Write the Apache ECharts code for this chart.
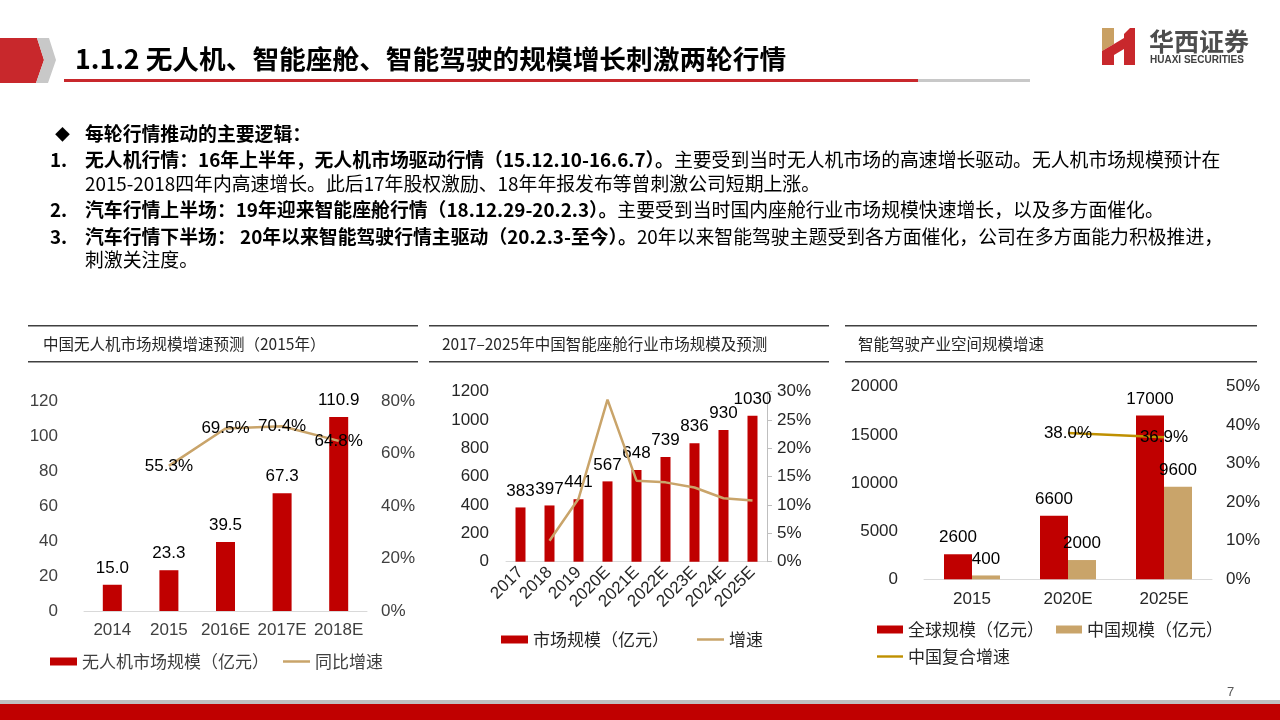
<!DOCTYPE html>
<html><head><meta charset="utf-8">
<script src="https://cdn.jsdelivr.net/npm/echarts@6/dist/echarts.min.js"></script>
<style>
body{margin:0;width:1280px;height:720px;overflow:hidden;background:#fff;font-family:"Noto Sans CJK SC",sans-serif;}
#c{position:absolute;left:0;top:0;width:1280px;height:720px;}
.t{position:absolute;white-space:nowrap;font-size:18.85px;color:#000;line-height:19px;z-index:2;}
.t b{font-weight:bold}
</style></head><body>
<div id="c"></div>
<div class="t" style="left:75px;top:45px;font-size:26.7px;line-height:26px;font-weight:bold;">1.1.2 无人机、智能座舱、智能驾驶的规模增长刺激两轮行情</div>
<div class="t" style="left:55px;top:124px;font-size:15px;">◆</div>
<div class="t" style="left:85px;top:123px;"><b>每轮行情推动的主要逻辑：</b></div>
<div class="t" style="left:50px;top:149px;"><b>1.</b></div>
<div class="t" style="left:85px;top:149px;"><b>无人机行情：16年上半年，无人机市场驱动行情（15.12.10-16.6.7）。</b>主要受到当时无人机市场的高速增长驱动。无人机市场规模预计在</div>
<div class="t" style="left:85px;top:173px;">2015-2018四年内高速增长。此后17年股权激励、18年年报发布等曾刺激公司短期上涨。</div>
<div class="t" style="left:50px;top:199px;"><b>2.</b></div>
<div class="t" style="left:85px;top:199px;"><b>汽车行情上半场：19年迎来智能座舱行情（18.12.29-20.2.3）。</b>主要受到当时国内座舱行业市场规模快速增长，以及多方面催化。</div>
<div class="t" style="left:50px;top:226px;"><b>3.</b></div>
<div class="t" style="left:85px;top:226px;"><b>汽车行情下半场： 20年以来智能驾驶行情主驱动（20.2.3-至今）。</b>20年以来智能驾驶主题受到各方面催化，公司在多方面能力积极推进，</div>
<div class="t" style="left:85px;top:249px;">刺激关注度。</div>
<script>
// Chart 1: 中国无人机市场规模增速预测（2015年）
const c1Cats = ['2014', '2015', '2016E', '2017E', '2018E'];
const c1Size = [15.0, 23.3, 39.5, 67.3, 110.9];
const c1Growth = [null, 55.3, 69.5, 70.4, 64.8];
// Chart 2: 2017-2025年中国智能座舱行业市场规模及预测
const c2Cats = ['2017', '2018', '2019', '2020E', '2021E', '2022E', '2023E', '2024E', '2025E'];
const c2Size = [383, 397, 441, 567, 648, 739, 836, 930, 1030];
const c2Growth = [null, 3.7, 11.1, 28.6, 14.3, 14.0, 13.1, 11.2, 10.8];
// Chart 3: 智能驾驶产业空间规模增速
const c3Cats = ['2015', '2020E', '2025E'];
const c3Global = [2600, 6600, 17000];
const c3China = [400, 2000, 9600];
const c3Cagr = [null, 38.0, 36.9];

const RED = '#C00000', TAN = '#C9A46A', GOLD = '#BF9000';
const NUM = '"Liberation Sans", "Noto Sans CJK SC", sans-serif';
const CJK = '"Noto Sans CJK SC", sans-serif';
const LINE_ICON = 'path://M0,0L27,0L27,2.5L0,2.5Z';

const chart = echarts.init(document.getElementById('c'));

const plain = v => String(v);
const pct = v => v + '%';

function xAx(gi, cats, labelExtra) {
  return {
    type: 'category', gridIndex: gi, data: cats,
    axisLine: {lineStyle: {color: '#D9D9D9', width: 1}},
    axisTick: {show: false},
    axisLabel: Object.assign({fontSize: 17, color: '#404040', fontFamily: NUM, margin: 11, interval: 0}, labelExtra || {})
  };
}
function yAx(gi, pos, max, interval, fmt, margin, color, extra) {
  return Object.assign({
    type: 'value', gridIndex: gi, position: pos, min: 0, max: max, interval: interval,
    axisLine: {show: false}, axisTick: {show: false}, splitLine: {show: false},
    axisLabel: {fontSize: 17, color: color, fontFamily: NUM, margin: margin, formatter: fmt}
  }, extra || {});
}
const barLabel = {show: true, position: 'top', distance: 8, fontSize: 17, color: '#000', fontFamily: NUM};
const lineLabel = {show: true, position: 'inside', fontSize: 17, color: '#000', fontFamily: NUM,
  formatter: p => p.value.toFixed(1) + '%'};

function sepLines(x1, x2) {
  return [
    {type: 'rect', shape: {x: x1, y: 325, width: x2 - x1, height: 1.5}, style: {fill: '#404040'}},
    {type: 'rect', shape: {x: x1, y: 361, width: x2 - x1, height: 1.5}, style: {fill: '#404040'}}
  ];
}
function ctitle(x, txt) {
  return {type: 'text', x: x, y: 344, style: {text: txt, fontSize: 15.5, fill: '#262626', fontFamily: CJK, verticalAlign: 'middle'}};
}

const option = {
  animation: false,
  textStyle: {fontFamily: CJK},
  grid: [
    {left: 84, top: 401, width: 283, height: 210},
    {left: 506, top: 391.7, width: 261, height: 170},
    {left: 924, top: 386.7, width: 288, height: 192.6}
  ],
  xAxis: [
    xAx(0, c1Cats),
    xAx(1, c2Cats, {color: '#262626', margin: 8, rotate: 45}),
    xAx(2, c3Cats, {color: '#262626', margin: 12})
  ],
  yAxis: [
    yAx(0, 'left', 120, 20, plain, 26, '#404040'),
    yAx(0, 'right', 80, 20, pct, 14, '#404040'),
    yAx(1, 'left', 1200, 200, plain, 17, '#262626'),
    yAx(1, 'right', 30, 5, pct, 10, '#262626', {
      axisLine: {show: true, lineStyle: {color: '#BFBFBF'}},
      axisTick: {show: true, inside: false, length: 5, lineStyle: {color: '#BFBFBF'}}
    }),
    yAx(2, 'left', 20000, 5000, plain, 26, '#262626'),
    yAx(2, 'right', 50, 10, pct, 14, '#262626')
  ],
  legend: [
    {left: 50, top: 653, padding: 0, itemWidth: 27, itemHeight: 8, itemGap: 14,
      textStyle: {fontSize: 17, color: '#404040', fontFamily: CJK},
      data: [{name: '无人机市场规模（亿元）', icon: 'rect'}, {name: '同比增速', icon: LINE_ICON}]},
    {left: 501, top: 631, padding: 0, itemWidth: 27, itemHeight: 8, itemGap: 28,
      textStyle: {fontSize: 17, color: '#262626', fontFamily: CJK},
      data: [{name: '市场规模（亿元）', icon: 'rect'}, {name: '增速', icon: LINE_ICON}]},
    {left: 877, top: 621, padding: 0, itemWidth: 26, itemHeight: 8, itemGap: 12,
      textStyle: {fontSize: 17, color: '#262626', fontFamily: CJK},
      data: [{name: '全球规模（亿元）', icon: 'rect'}, {name: '中国规模（亿元）', icon: 'rect'}]},
    {left: 877, top: 648, padding: 0, itemWidth: 26, itemHeight: 8,
      textStyle: {fontSize: 17, color: '#262626', fontFamily: CJK},
      data: [{name: '中国复合增速', icon: LINE_ICON}]}
  ],
  series: [
    {name: '无人机市场规模（亿元）', type: 'bar', xAxisIndex: 0, yAxisIndex: 0, data: c1Size, barWidth: 19,
      itemStyle: {color: RED}, label: Object.assign({}, barLabel, {formatter: p => p.value.toFixed(1)})},
    {name: '同比增速', type: 'line', xAxisIndex: 0, yAxisIndex: 1, data: c1Growth,
      symbol: 'circle', symbolSize: 0, showSymbol: true,
      lineStyle: {color: TAN, width: 2.5}, itemStyle: {color: TAN}, label: lineLabel, z: 3},
    {name: '市场规模（亿元）', type: 'bar', xAxisIndex: 1, yAxisIndex: 2, data: c2Size, barWidth: 10,
      itemStyle: {color: RED}, label: barLabel},
    {name: '增速', type: 'line', xAxisIndex: 1, yAxisIndex: 3, data: c2Growth, symbol: 'none',
      lineStyle: {color: TAN, width: 2.5}, itemStyle: {color: TAN}, z: 3},
    {name: '全球规模（亿元）', type: 'bar', xAxisIndex: 2, yAxisIndex: 4, data: c3Global, barWidth: 28, barGap: '0%',
      itemStyle: {color: RED}, label: barLabel},
    {name: '中国规模（亿元）', type: 'bar', xAxisIndex: 2, yAxisIndex: 4, data: c3China, barWidth: 28, barGap: '0%',
      itemStyle: {color: TAN}, label: barLabel},
    {name: '中国复合增速', type: 'line', xAxisIndex: 2, yAxisIndex: 5, data: c3Cagr,
      symbol: 'circle', symbolSize: 0, showSymbol: true,
      lineStyle: {color: GOLD, width: 2.5}, itemStyle: {color: GOLD}, label: lineLabel, z: 3}
  ],
  graphic: [
    // header chevron
    {type: 'polygon', shape: {points: [[0, 38], [37, 38], [44, 60], [36, 83], [0, 83]]}, style: {fill: '#C8282C'}},
    {type: 'polygon', shape: {points: [[37, 38], [49, 38], [56, 60], [48, 83], [36, 83], [44, 60]]}, style: {fill: '#C8C8C8'}},
    {type: 'rect', shape: {x: 64, y: 79, width: 854, height: 3}, style: {fill: '#C8282C'}},
    {type: 'rect', shape: {x: 918, y: 79, width: 112, height: 3}, style: {fill: '#C8C8C8'}},
    // logo
    {type: 'polygon', shape: {points: [[1102, 28], [1114, 28], [1114, 44], [1102, 51]]}, style: {fill: '#C9A063'}},
    {type: 'polygon', shape: {points: [[1102, 51], [1114, 44], [1114, 65], [1102, 65]]}, style: {fill: '#C8282C'}},
    {type: 'polygon', shape: {points: [[1114, 44], [1124, 38], [1124, 49], [1114, 55]]}, style: {fill: '#C8282C'}},
    {type: 'polygon', shape: {points: [[1124, 34], [1130, 28], [1135, 28], [1135, 65], [1124, 65]]}, style: {fill: '#C8282C'}},
    {type: 'text', x: 1149, y: 41, style: {text: '华西证券', fontSize: 25, fontWeight: 'bold', fill: '#4D4D4D', fontFamily: CJK, verticalAlign: 'middle'}},
    {type: 'text', x: 1150, y: 60, style: {text: 'HUAXI SECURITIES', fontSize: 10, fontWeight: 'bold', fill: '#404040', fontFamily: NUM, verticalAlign: 'middle'}},
    // chart header lines and titles
    ...sepLines(28, 418), ...sepLines(429, 829), ...sepLines(845, 1257),
    ctitle(43, '中国无人机市场规模增速预测（2015年）'),
    ctitle(442, '2017–2025年中国智能座舱行业市场规模及预测'),
    ctitle(858, '智能驾驶产业空间规模增速'),
    // footer
    {type: 'rect', shape: {x: 0, y: 700, width: 1280, height: 4}, style: {fill: '#C0C0C0'}},
    {type: 'rect', shape: {x: 0, y: 704, width: 1280, height: 16}, style: {fill: '#C00000'}},
    {type: 'text', x: 1227, y: 692, style: {text: '7', fontSize: 13, fill: '#595959', fontFamily: NUM, verticalAlign: 'middle'}}
  ]
};
chart.setOption(option);
</script>
</body></html>
